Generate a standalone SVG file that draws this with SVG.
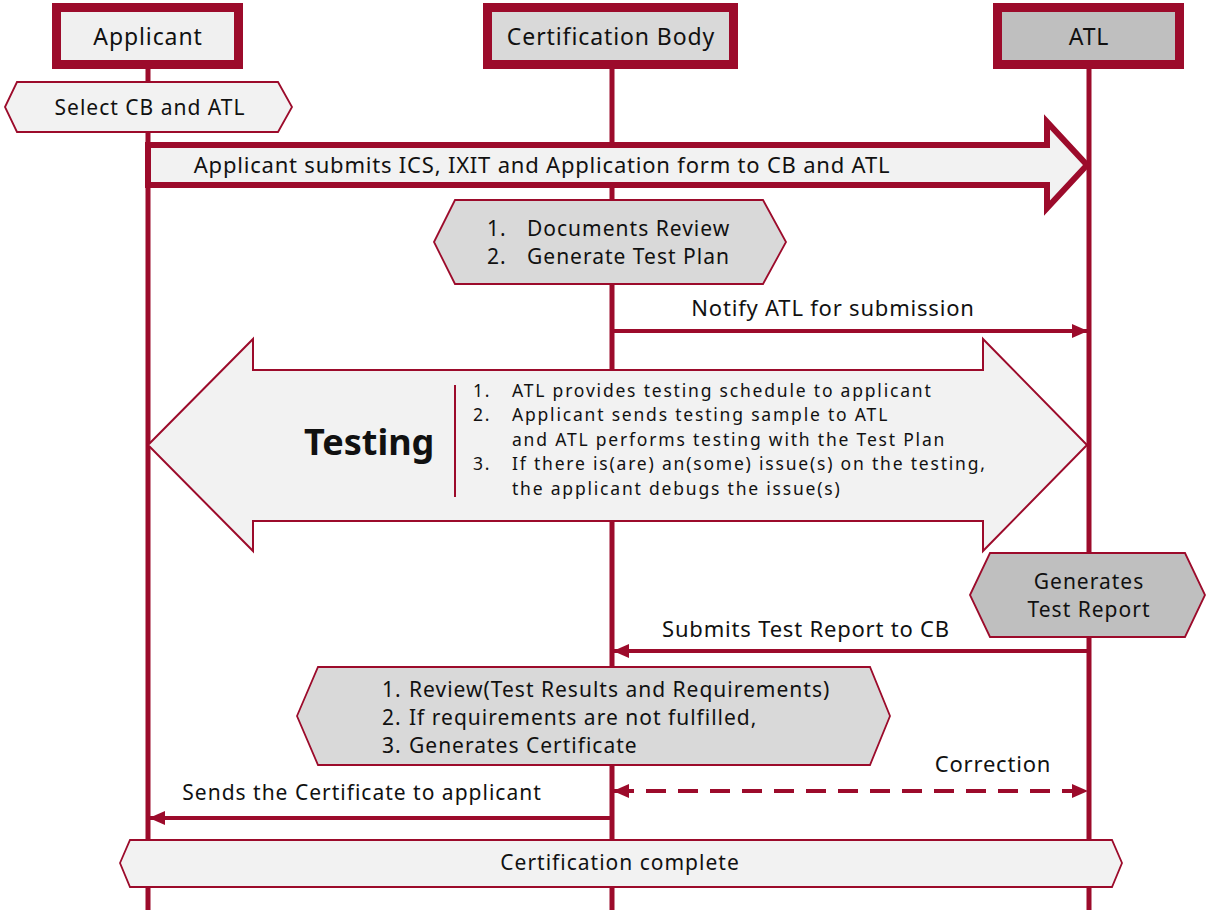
<svg xmlns="http://www.w3.org/2000/svg" width="1207" height="910" viewBox="0 0 1207 910">
<style>
text{font-family:"Noto Sans","Liberation Sans",sans-serif;fill:#111;}
.hdr{stroke:#9C0B2B;stroke-width:9;}
.life{stroke:#9C0B2B;stroke-width:5;fill:none;}
.hex{stroke:#9C0B2B;stroke-width:1.8;}
.msg{stroke:#9C0B2B;stroke-width:4;fill:none;}
.t20{font-size:21px;letter-spacing:1px;}
.t21{font-size:22px;letter-spacing:0.8px;}
.th{font-size:23px;letter-spacing:0.9px;}
.c{text-anchor:middle;}
</style>
<defs>
<marker id="ah" markerUnits="userSpaceOnUse" markerWidth="16" markerHeight="16" viewBox="0 0 16 16" refX="15" refY="8" orient="auto-start-reverse">
<path d="M0,1 L16,8 L0,15 Z" fill="#9C0B2B"/>
</marker>
</defs>
<rect width="1207" height="910" fill="#fff"/>
<g id="lifelines">
<line class="life" x1="148" y1="68" x2="148" y2="910"/>
<line class="life" x1="612" y1="68" x2="612" y2="910"/>
<line class="life" x1="1089" y1="68" x2="1089" y2="910"/>
</g>
<g id="applicant">
<rect class="hdr" x="56.5" y="7.5" width="182" height="57" fill="#f0f0f0"/>
<text class="c th" x="148" y="45">Applicant</text>
</g>
<g id="cb">
<rect class="hdr" x="487.5" y="7.5" width="246" height="57" fill="#d9d9d9"/>
<text class="c th" x="611" y="45">Certification Body</text>
</g>
<g id="atl">
<rect class="hdr" x="997.5" y="7.5" width="182" height="57" fill="#bfbfbf"/>
<text class="c th" x="1089" y="45">ATL</text>
</g>
<g id="select">
<polygon class="hex" points="5,107 17,82 278,82 292,107 278,132 17,132" fill="#f2f2f2"/>
<text class="c t20" x="150" y="115">Select CB and ATL</text>
</g>
<g id="submit">
<polygon points="148,145 1047,145 1047,122 1087,165 1047,208 1047,185 148,185" fill="#f2f2f2" stroke="#9C0B2B" stroke-width="6" stroke-linejoin="miter"/>
<text class="c t21" x="542" y="173">Applicant submits ICS, IXIT and Application form to CB and ATL</text>
</g>
<g id="docreview">
<polygon class="hex" points="434,242 455,200 763,200 786,242 763,284 455,284" fill="#d9d9d9"/>
<text class="t20" x="487" y="236">1.</text>
<text class="t20" x="527" y="236">Documents Review</text>
<text class="t20" x="487" y="264">2.</text>
<text class="t20" x="527" y="264">Generate Test Plan</text>
</g>
<g id="testing">
<polygon points="148,445 253,339 253,370 983,370 983,339 1087,445 983,551 983,521 253,521 253,551" fill="#f2f2f2" stroke="#9C0B2B" stroke-width="2"/>
<text x="304" y="455" font-size="36" font-weight="bold">Testing</text>
<line x1="455" y1="385" x2="455" y2="497" stroke="#9C0B2B" stroke-width="2"/>
<g font-size="17.5" letter-spacing="1.8">
<text x="473" y="397">1.</text>
<text x="512" y="397">ATL provides testing schedule to applicant</text>
<text x="473" y="421">2.</text>
<text x="512" y="421">Applicant sends testing sample to ATL</text>
<text x="512" y="445.5">and ATL performs testing with the Test Plan</text>
<text x="473" y="470">3.</text>
<text x="512" y="470">If there is(are) an(some) issue(s) on the testing,</text>
<text x="512" y="494.5">the applicant debugs the issue(s)</text>
</g>
</g>
<g id="report">
<polygon class="hex" points="970,595 990,553 1185,553 1205,595 1185,637 990,637" fill="#bfbfbf"/>
<text class="c t20" x="1089" y="589">Generates</text>
<text class="c t20" x="1089" y="617">Test Report</text>
</g>
<g id="review">
<polygon class="hex" points="297,716 318,667 870,667 890,716 870,765 318,765" fill="#d9d9d9"/>
<text class="t20" x="382" y="697">1.</text>
<text class="t20" x="409" y="697">Review(Test Results and Requirements)</text>
<text class="t20" x="382" y="725">2.</text>
<text class="t20" x="409" y="725">If requirements are not fulfilled,</text>
<text class="t20" x="382" y="753">3.</text>
<text class="t20" x="409" y="753">Generates Certificate</text>
</g>
<g id="complete">
<polygon class="hex" points="120,863 130,840 1112,840 1122,863 1112,887 130,887" fill="#f2f2f2"/>
<text class="c t20" x="620" y="870">Certification complete</text>
</g>
<g id="connectors">
<line class="msg" x1="612" y1="331" x2="1087" y2="331" marker-end="url(#ah)"/>
<line class="msg" x1="1089" y1="651" x2="614" y2="651" marker-end="url(#ah)"/>
<line class="msg" x1="614" y1="791" x2="1087" y2="791" stroke-dasharray="20,12" marker-start="url(#ah)" marker-end="url(#ah)"/>
<line class="msg" x1="612" y1="818" x2="150" y2="818" marker-end="url(#ah)"/>
<text class="c t21" x="833" y="316">Notify ATL for submission</text>
<text class="c t21" x="806" y="637">Submits Test Report to CB</text>
<text class="c t21" x="993" y="772">Correction</text>
<text class="c t20" x="362" y="800">Sends the Certificate to applicant</text>
</g>
</svg>
